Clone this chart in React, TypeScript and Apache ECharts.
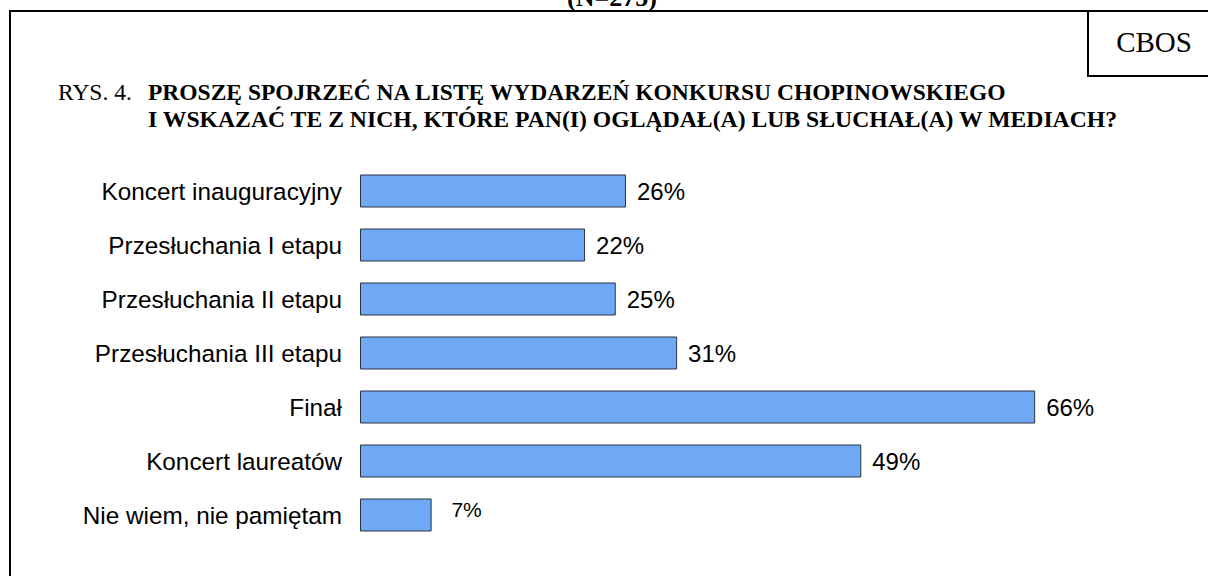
import React, { useEffect, useRef } from 'react';
import * as echarts from 'echarts';

const categories = [
  'Koncert inauguracyjny',
  'Przesłuchania I etapu',
  'Przesłuchania II etapu',
  'Przesłuchania III etapu',
  'Finał',
  'Koncert laureatów',
  'Nie wiem, nie pamiętam',
];
const values = [26, 22, 25, 31, 66, 49, 7];
const titleLines = [
  'PROSZĘ SPOJRZEĆ NA LISTĘ WYDARZEŃ KONKURSU CHOPINOWSKIEGO',
  'I WSKAZAĆ TE Z NICH, KTÓRE PAN(I) OGLĄDAŁ(A) LUB SŁUCHAŁ(A) W MEDIACH?',
];
const figureLabel = 'RYS. 4.';
const sampleNote = '(N=275)';
const brand = 'CBOS';

const SERIF = '"Liberation Serif", "Times New Roman", serif';
const SANS = '"Liberation Sans", Arial, sans-serif';

export default function App() {
  const ref = useRef<HTMLDivElement>(null);
  useEffect(() => {
    if (!ref.current) return;
    const chart = echarts.init(ref.current, undefined, { renderer: 'svg' });
    const lineStyle = { stroke: '#000', lineWidth: 2 };
    const barData = values.map((v) =>
      v < 10
        ? { value: v, label: { fontSize: 21, offset: [0, -6] } }
        : { value: v }
    );
    chart.setOption({
      animation: false,
      backgroundColor: '#fff',
      grid: { left: 360, top: 164, width: 818.4, height: 378 },
      xAxis: { type: 'value', min: 0, max: 80, show: false },
      yAxis: {
        type: 'category',
        data: categories,
        inverse: true,
        axisLine: { show: false },
        axisTick: { show: false },
        splitLine: { show: false },
        axisLabel: { color: '#000', fontFamily: SANS, fontSize: 24.3, margin: 18 },
      },
      series: [
        {
          type: 'bar',
          data: barData,
          barWidth: 33,
          itemStyle: { color: '#6fa8f5', borderColor: '#2b3540', borderWidth: 1 },
          label: {
            show: true,
            position: 'right',
            distance: 35,
            align: 'center',
            formatter: '{c}%',
            color: '#000',
            fontFamily: SANS,
            fontSize: 24,
          },
        },
      ],
      graphic: [
        { type: 'line', shape: { x1: 9, y1: 11, x2: 1208, y2: 11 }, style: lineStyle },
        { type: 'line', shape: { x1: 10, y1: 10, x2: 10, y2: 576 }, style: lineStyle },
        { type: 'line', shape: { x1: 1088, y1: 11, x2: 1088, y2: 76 }, style: lineStyle },
        { type: 'line', shape: { x1: 1087, y1: 76, x2: 1208, y2: 76 }, style: lineStyle },
        {
          type: 'text', x: 612, y: -2.5,
          style: { text: sampleNote, font: `bold 26px ${SERIF}`, fill: '#000', align: 'center', verticalAlign: 'middle' },
        },
        {
          type: 'text', x: 1154, y: 42,
          style: { text: brand, font: `29px ${SERIF}`, fill: '#000', align: 'center', verticalAlign: 'middle' },
        },
        {
          type: 'text', x: 58, y: 92,
          style: { text: figureLabel, font: `23.5px ${SERIF}`, fill: '#000', align: 'left', verticalAlign: 'middle' },
        },
        {
          type: 'text', x: 148, y: 92,
          style: { text: titleLines[0], font: `bold 23.5px ${SERIF}`, fill: '#000', align: 'left', verticalAlign: 'middle' },
        },
        {
          type: 'text', x: 148, y: 119,
          style: { text: titleLines[1], font: `bold 23.7px ${SERIF}`, fill: '#000', align: 'left', verticalAlign: 'middle' },
        },
      ],
    });
    return () => chart.dispose();
  }, []);
  return <div ref={ref} style={{ position: 'fixed', left: 0, top: 0, width: 1208, height: 576 }} />;
}
